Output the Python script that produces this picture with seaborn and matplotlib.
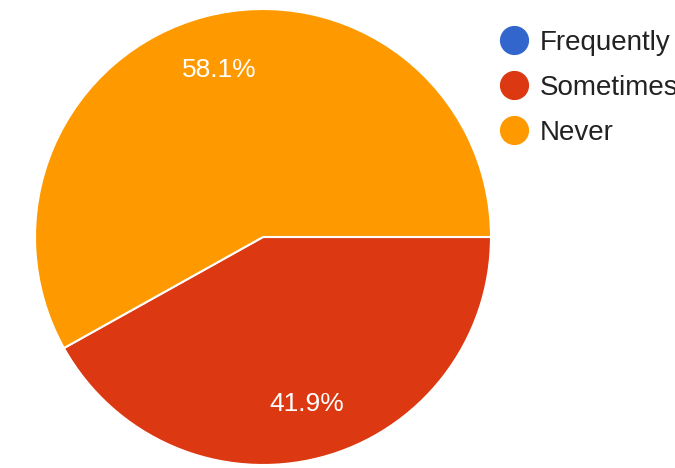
import matplotlib
matplotlib.use('Agg')
import matplotlib.pyplot as plt
from matplotlib.lines import Line2D
import seaborn as sns

# answers from the form
labels = ['Frequently', 'Sometimes', 'Never']
shares = [0.0, 41.9, 58.1]
colors = ['#3366CC', '#DC3912', '#FF9900']

sns.set_style('white')
plt.rcParams['font.family'] = ['Liberation Sans', 'DejaVu Sans']
pal = sns.color_palette(colors)

fig = plt.figure(figsize=(6.75, 4.68), dpi=100)
ax = fig.add_axes([35 / 675, 3 / 468, 456 / 675, 456 / 468])


def pct_label(p):
    """ hide the empty slice """
    return '%.1f%%' % p if p > 0.5 else ''


wedges, texts, autotexts = ax.pie(shares, colors=pal, startangle=0, counterclock=False,
                                  autopct=pct_label, pctdistance=0.757,
                                  wedgeprops={'edgecolor': 'white', 'linewidth': 1.5},
                                  textprops={'color': 'white', 'fontsize': 19})
ax.set_xlim(-1, 1)
ax.set_ylim(-1, 1)
ax.set_aspect('equal')

# legend sits at the right edge, last letters run off like in the form screenshot
handles = [Line2D([], [], marker='o', linestyle='', markersize=20, markerfacecolor=c,
                  markeredgecolor=c) for c in pal]
leg = fig.legend(handles, labels, loc='upper left', bbox_to_anchor=(497 / 675, 1 - 30 / 468),
                 frameon=False, fontsize=20, handletextpad=0.35, labelspacing=0.68,
                 handlelength=1.2, borderaxespad=0, borderpad=0)
for t in leg.get_texts():
    t.set_color('#222222')

fig.savefig('out.png', dpi=100)
